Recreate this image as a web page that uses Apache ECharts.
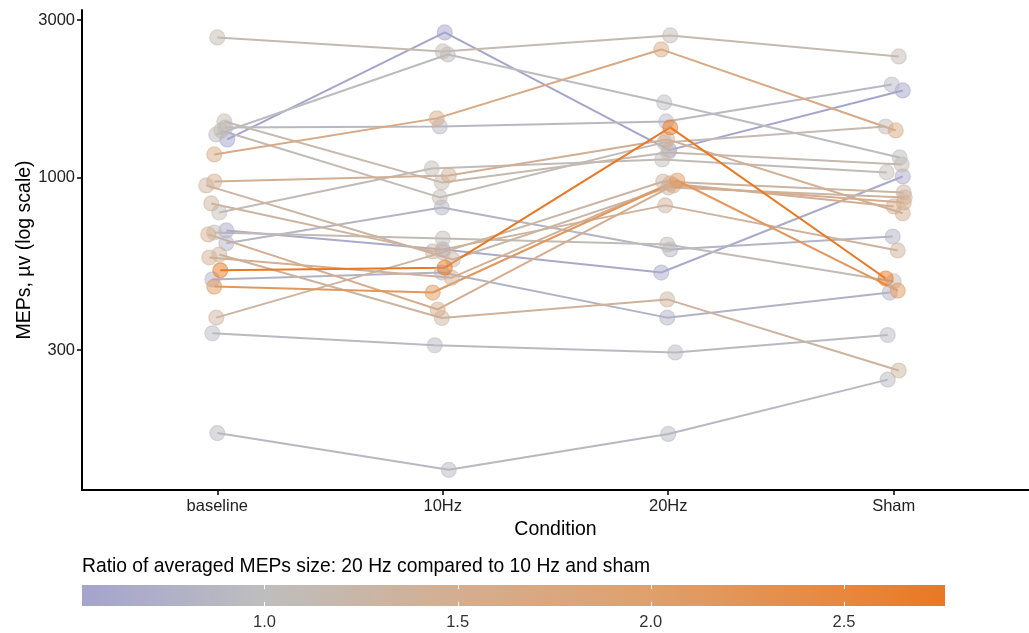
<!DOCTYPE html>
<html><head><meta charset="utf-8">
<script src="https://cdn.jsdelivr.net/npm/echarts@6/dist/echarts.min.js"></script>
<style>html,body{margin:0;padding:0;background:#fff}#c{width:1029px;height:633px}</style>
</head><body><div id="c"></div>
<script>
// ---------------- data ----------------
const conditions = ['baseline', '10Hz', '20Hz', 'Sham'];
// MEP amplitude (µV), one entry per subject
const baseline = [2656,1304,1350,1418,1174,1478,1388, 972, 632, 783, 681, 467, 672, 376, 946, 834, 572, 523, 584, 491, 691, 337, 168];
const hz10     = [2409,2750,2359,1427,1510, 966, 870,1014, 811,1065, 653, 448, 398, 593, 564, 597, 497, 533, 375, 515, 605, 310, 130];
const hz20     = [2693,1210,1688,1478,2443,1191,1277,1304, 605,1134, 626, 979, 946, 972, 933, 823, 959,1418, 427, 376, 515, 295, 167];
const sham     = [2326,1835,1150,1913,1388,1095,1427, 779, 662,1036, 484, 454, 840, 901, 870, 601, 817, 494, 260, 448,1007, 333, 244];
// horizontal jitter of the points, in pixels of the 225 px category spacing
const jitterPx = [
  [0,0,2,5],[10,2,1,9],[-1,5,-4,6],[8,-3,-2,-2],[-3,-6,-7,2],[7,-1,0,8],[4,-3,-4,-8],[-3,6,-1,9],
  [9,-1,2,-1],[2,-11,-6,-7],[-3,0,-1,0],[-3,-10,9,4],[-9,-5,5,10],[-1,0,-5,10],[-11,10,0,11],
  [-6,-10,-3,4],[-8,9,2,0],[3,2,2,-8],[2,-1,-1,5],[-5,-1,-1,-4],[9,0,-7,9],[-5,-8,7,-6],[0,6,0,-6]
];
const yTicks = [300, 1000, 3000];
const colorbarTicks = [1.0, 1.5, 2.0, 2.5];
const colorbarTitle = 'Ratio of averaged MEPs size: 20 Hz compared to 10 Hz and sham';

// ---------------- derived ----------------
const series4 = [baseline, hz10, hz20, sham];
const ratio = hz20.map((v, i) => v / ((hz10[i] + sham[i]) / 2));
const rMin = Math.min(...ratio), rMax = Math.max(...ratio);

const colStops = [
  [0.5, [162, 162, 206]], [0.75, [176, 176, 200]], [1.0, [190, 190, 190]],
  [1.5, [212, 174, 144]], [2.0, [223, 160, 108]], [2.5, [231, 135, 62]], [2.8, [235, 118, 30]]
];
function colorFor(r) {
  if (r <= colStops[0][0]) return rgb(colStops[0][1]);
  for (let i = 1; i < colStops.length; i++) {
    if (r <= colStops[i][0]) {
      const [a, ca] = colStops[i - 1], [b, cb] = colStops[i];
      const t = (r - a) / (b - a);
      return rgb(ca.map((c, k) => c + (cb[k] - c) * t));
    }
  }
  return rgb(colStops[colStops.length - 1][1]);
}
function rgb(c) { return 'rgb(' + c.map(Math.round).join(',') + ')'; }

const order = ratio.map((r, i) => i).sort((a, b) => ratio[a] - ratio[b]);
const FONT = '"Liberation Sans", Arial, sans-serif';

const lineSeries = order.map(i => ({
  type: 'line',
  xAxisIndex: 0, yAxisIndex: 0,
  data: series4.map((arr, c) => [c + 1 + jitterPx[i][c] / 225, Math.log10(arr[i])]),
  showSymbol: false, symbol: 'none',
  lineStyle: { color: colorFor(ratio[i]), width: 2 },
  silent: true, animation: false, z: 2
}));
const pointData = [];
order.forEach(i => {
  series4.forEach((arr, c) => {
    pointData.push({ value: [c + 1 + jitterPx[i][c] / 225, Math.log10(arr[i])],
      itemStyle: { color: colorFor(ratio[i]), borderColor: colorFor(ratio[i]) } });
  });
});

const chart = echarts.init(document.getElementById('c'), null, { renderer: 'canvas' });
chart.setOption({
  animation: false,
  backgroundColor: '#fff',
  textStyle: { fontFamily: FONT },
  title: { text: colorbarTitle, left: 82, top: 557, padding: 0,
    textStyle: { fontFamily: FONT, fontSize: 19.3, fontWeight: 'normal', color: '#000' } },
  grid: [
    { left: 82, top: 10, width: 947, height: 480, outerBoundsMode: 'none' },
    { left: 82, top: 585, width: 863, height: 21, outerBoundsMode: 'none' }
  ],
  xAxis: [
    { type: 'value', gridIndex: 0, min: 0.4, max: 4.6,
      name: 'Condition', nameLocation: 'middle', nameGap: 30, nameMoveOverlap: false,
      nameTextStyle: { fontSize: 19.5, color: '#000', fontFamily: FONT },
      axisLine: { show: true, onZero: false, lineStyle: { color: '#000', width: 2 } },
      axisTick: { show: true, length: 5, customValues: [1, 2, 3, 4], lineStyle: { color: '#000', width: 1.5 } },
      axisLabel: { customValues: [1, 2, 3, 4], formatter: v => conditions[Math.round(v) - 1],
        fontSize: 16.5, color: '#222', margin: 8, fontFamily: FONT },
      splitLine: { show: false } },
    { type: 'value', gridIndex: 1, min: rMin, max: rMax,
      axisLine: { show: false }, axisTick: { show: false }, splitLine: { show: false },
      axisLabel: { customValues: colorbarTicks, formatter: v => v.toFixed(1),
        fontSize: 16.5, color: '#333', margin: 8, fontFamily: FONT } }
  ],
  yAxis: [
    { type: 'value', gridIndex: 0, min: 2.0529, max: 3.5074,
      name: 'MEPs, µv (log scale)', nameLocation: 'middle', nameGap: 47, nameRotate: 90, nameMoveOverlap: false,
      nameTextStyle: { fontSize: 19.5, color: '#000', fontFamily: FONT },
      axisLine: { show: true, onZero: false, lineStyle: { color: '#000', width: 2 } },
      axisTick: { show: true, length: 5, customValues: yTicks.map(Math.log10), lineStyle: { color: '#000', width: 1.5 } },
      axisLabel: { customValues: yTicks.map(Math.log10), formatter: v => String(Math.round(Math.pow(10, v))),
        fontSize: 16.5, color: '#222', margin: 7, fontFamily: FONT },
      splitLine: { show: false } },
    { type: 'value', gridIndex: 1, min: 0, max: 1, show: false }
  ],
  series: [
    ...lineSeries,
    { type: 'scatter', xAxisIndex: 0, yAxisIndex: 0, data: pointData, symbolSize: 15,
      itemStyle: { opacity: 0.5, borderWidth: 1.2 }, silent: true, z: 3 },
    { type: 'custom', xAxisIndex: 1, yAxisIndex: 1, data: [[rMin, rMax]], silent: true,
      renderItem: function (params, api) {
        const p0 = api.coord([rMin, 0]), p1 = api.coord([rMax, 1]);
        const stops = [];
        for (let k = 0; k <= 60; k++) {
          const r = rMin + (rMax - rMin) * k / 60;
          stops.push({ offset: k / 60, color: colorFor(r) });
        }
        const h = p0[1] - p1[1];
        const children = [{ type: 'rect',
          shape: { x: p0[0], y: p1[1], width: p1[0] - p0[0], height: h },
          style: { fill: new echarts.graphic.LinearGradient(0, 0, 1, 0, stops) } }];
        colorbarTicks.forEach(t => {
          const x = Math.round(api.coord([t, 0])[0]) + 0.5;
          children.push({ type: 'line', shape: { x1: x, y1: p0[1], x2: x, y2: p0[1] - h / 5 }, style: { stroke: '#fff', lineWidth: 1 } });
          children.push({ type: 'line', shape: { x1: x, y1: p1[1], x2: x, y2: p1[1] + h / 5 }, style: { stroke: '#fff', lineWidth: 1 } });
        });
        return { type: 'group', children };
      } }
  ]
});
</script></body></html>
